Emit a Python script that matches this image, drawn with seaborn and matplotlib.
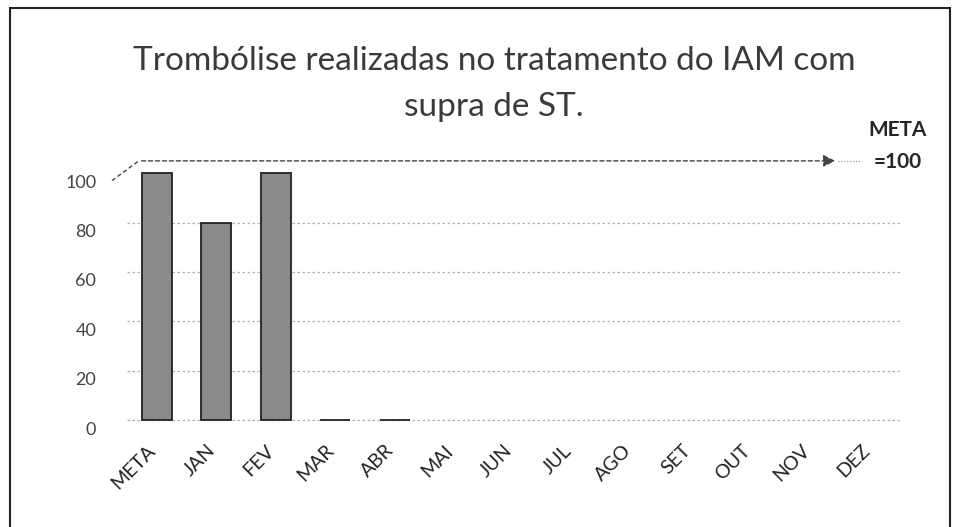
# gráfico de barras: trombólise realizadas no tratamento do IAM
import numpy as np
import pandas as pd
import seaborn as sns
import matplotlib.pyplot as plt
import matplotlib.transforms as mtransforms
from matplotlib.patches import Rectangle

# dados
meses = ['META', 'JAN', 'FEV', 'MAR', 'ABR', 'MAI', 'JUN', 'JUL', 'AGO', 'SET', 'OUT', 'NOV', 'DEZ']
valores = [100, 80, 100, 0, 0, np.nan, np.nan, np.nan, np.nan, np.nan, np.nan, np.nan, np.nan]
meta = 100
yticks = [0, 20, 40, 60, 80, 100]

df = pd.DataFrame({'mes': meses, 'valor': valores})

sns.set_style('white')
plt.rcParams['font.family'] = ['Lato', 'DejaVu Sans']

fig = plt.figure(figsize=(9.54, 5.27), dpi=100)
ax = fig.add_axes([0.133, 0.196, 0.811, 0.480])

# linhas de grade pontilhadas (menos a de 100, que é a seta da meta)
for v in yticks[:-1]:
    ax.axhline(v, color='#b0b0b0', lw=0.9, ls=(0, (2, 2)), zorder=0)

sns.barplot(data=df, x='mes', y='valor', order=meses, color='#8a8a8a',
            width=0.5, edgecolor='#222222', linewidth=1.3, saturation=1,
            ax=ax, zorder=3)

ax.set_xlim(-0.5, len(meses) - 0.5)
ax.set_ylim(-1.5, 101)
ax.set_yticks(yticks)
ax.set_yticklabels([str(v) for v in yticks], fontsize=13, color='#444444')
ax.set_xticks(range(len(meses)))
ax.set_xticklabels(meses, rotation=45, ha='right', rotation_mode='anchor',
                   fontsize=14, color='#222222')
ax.tick_params(axis='y', length=0, pad=22)
ax.tick_params(axis='x', length=0, pad=13)
ax.set_xlabel('')
ax.set_ylabel('')
for s in ax.spines.values():
    s.set_visible(False)

# deslocamento dos rótulos (efeito do gráfico 3D original)
desl_y = mtransforms.ScaledTranslation(0, -8 / 100, fig.dpi_scale_trans)
for lab in ax.get_yticklabels():
    lab.set_transform(lab.get_transform() + desl_y)
desl_x = mtransforms.ScaledTranslation(-10 / 100, 0, fig.dpi_scale_trans)
for lab in ax.get_xticklabels():
    lab.set_transform(lab.get_transform() + desl_x)

# seta tracejada da meta
ax.plot([-0.75, -0.3], [meta - 3, meta + 5], color='#444444', lw=1,
        ls=(0, (3, 2)), clip_on=False)
ax.annotate('', xy=(11.45, meta + 5), xytext=(-0.3, meta + 5),
            arrowprops=dict(arrowstyle='-|>', color='#444444', lw=1,
                            ls=(0, (3, 2)), mutation_scale=18),
            annotation_clip=False)
ax.plot([11.45, 11.85], [meta + 5, meta + 5], color='#888888', lw=0.8,
        ls=':', clip_on=False)
ax.text(12.45, meta + 11, 'META\n=100', fontsize=15, fontweight='bold',
        ha='center', va='center', linespacing=1.7, clip_on=False)

# título
fig.text(0.518, 0.885, 'Trombólise realizadas no tratamento do IAM com',
         fontsize=24, ha='center', va='center', color='#3a3a3a')
fig.text(0.518, 0.797, 'supra de ST.', fontsize=24, ha='center',
         va='center', color='#3a3a3a')

# moldura
fig.patches.append(Rectangle((0.011, -0.01), 0.985, 0.995,
                             transform=fig.transFigure, fill=False,
                             ec='#222222', lw=1.5))

fig.savefig('out.png', dpi=100)
